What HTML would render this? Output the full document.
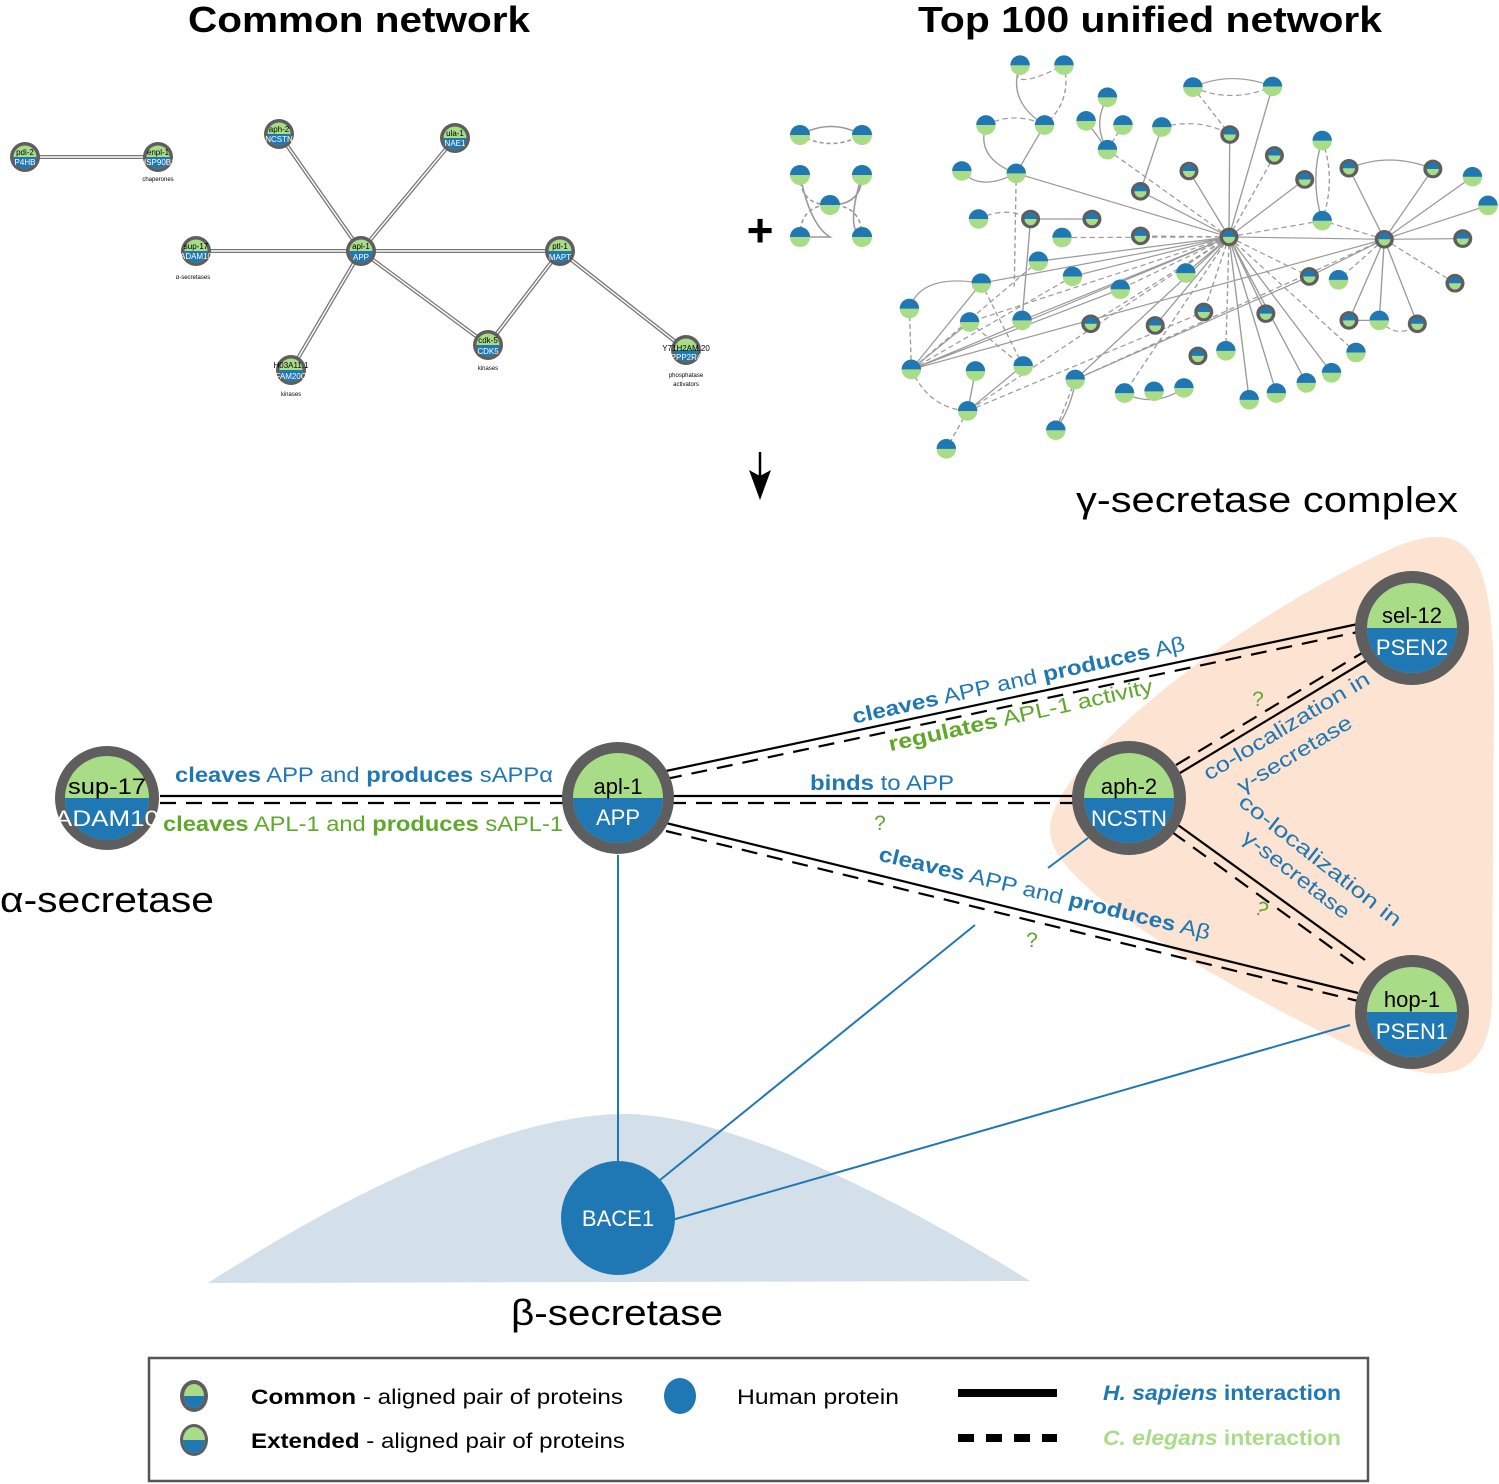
<!DOCTYPE html>
<html><head><meta charset="utf-8"><style>
html,body{margin:0;padding:0;background:#fff}
svg{display:block;font-family:"Liberation Sans",sans-serif}
</style></head><body>
<svg width="1499" height="1484" viewBox="0 0 1499 1484" xmlns="http://www.w3.org/2000/svg">
<defs>
<g id="ex"><ellipse rx="25" ry="29" fill="#a8dc87"/><path d="M-25,0 A25,29 0 0 1 25,0 Z" fill="#1f77b4"/></g>
<g id="cm"><ellipse rx="20" ry="23" fill="#a8dc87" stroke="#5e5e5e" stroke-width="9"/><path d="M-16,0 A16,19 0 0 1 16,0 Z" fill="#1f77b4"/></g>
<g id="sx"><circle r="10" fill="#a8dc87"/><path d="M-10,0 A10,10 0 0 1 10,0 Z" fill="#1f77b4"/></g>
<g id="sc"><circle r="15" fill="#5e5e5e"/><circle r="11.5" fill="#a8dc87"/><path d="M-11.5,0 A11.5,11.5 0 0 0 11.5,0 Z" fill="#1f77b4"/></g>
</defs>

<!-- titles -->
<text x="188" y="32" font-size="36" font-weight="bold" textLength="342" lengthAdjust="spacingAndGlyphs">Common network</text>
<text x="918" y="32" font-size="36" font-weight="bold" textLength="464" lengthAdjust="spacingAndGlyphs">Top 100 unified network</text>

<!-- small common network -->
<g stroke-linecap="round">
<g stroke="#777" stroke-width="4">
<line x1="25" y1="157" x2="158" y2="157"/>
<line x1="279" y1="134" x2="361" y2="251"/>
<line x1="455" y1="138" x2="361" y2="251"/>
<line x1="196" y1="251" x2="560" y2="251"/>
<line x1="361" y1="251" x2="488" y2="345"/>
<line x1="361" y1="251" x2="291" y2="370"/>
<line x1="560" y1="251" x2="488" y2="345"/>
<line x1="560" y1="251" x2="686" y2="350"/>
</g>
<g stroke="#fff" stroke-width="1.4">
<line x1="25" y1="157" x2="158" y2="157"/>
<line x1="279" y1="134" x2="361" y2="251"/>
<line x1="455" y1="138" x2="361" y2="251"/>
<line x1="196" y1="251" x2="560" y2="251"/>
<line x1="361" y1="251" x2="488" y2="345"/>
<line x1="361" y1="251" x2="291" y2="370"/>
<line x1="560" y1="251" x2="488" y2="345"/>
<line x1="560" y1="251" x2="686" y2="350"/>
</g>
</g>
<g font-size="8" text-anchor="middle">
<use href="#sc" x="25" y="157"/><text x="25" y="155">pdi-2</text><text x="25" y="165" fill="#fff">P4HB</text>
<use href="#sc" x="158" y="157"/><text x="158" y="155">enpl-1</text><text x="158" y="165" fill="#fff">HSP90B1</text><text x="158" y="181" font-size="6">chaperones</text>
<use href="#sc" x="279" y="134"/><text x="279" y="132">aph-2</text><text x="279" y="142" fill="#fff">NCSTN</text>
<use href="#sc" x="455" y="138"/><text x="455" y="136">ula-1</text><text x="455" y="146" fill="#fff">NAE1</text>
<use href="#sc" x="196" y="251"/><text x="196" y="249">sup-17</text><text x="196" y="259" fill="#fff">ADAM10</text><text x="193" y="279" font-size="6">α-secretases</text>
<use href="#sc" x="361" y="251"/><text x="361" y="249">apl-1</text><text x="361" y="260" fill="#fff">APP</text>
<use href="#sc" x="560" y="251"/><text x="560" y="249">ptl-1</text><text x="560" y="260" fill="#fff">MAPT</text>
<use href="#sc" x="488" y="345"/><text x="488" y="343">cdk-5</text><text x="488" y="354" fill="#fff">CDK5</text><text x="488" y="370" font-size="6">kinases</text>
<use href="#sc" x="291" y="370"/><text x="291" y="368">H03A11.1</text><text x="291" y="379" fill="#fff">FAM20C</text><text x="291" y="396" font-size="6">kinases</text>
<use href="#sc" x="686" y="350"/><text x="686" y="351">Y71H2AM.20</text><text x="686" y="360" fill="#fff">PPP2R4</text><text x="686" y="377" font-size="6">phosphatase</text><text x="686" y="386" font-size="6">activators</text>
</g>

<!-- plus and arrow -->
<text x="760" y="246" font-size="46" font-weight="bold" text-anchor="middle">+</text>
<line x1="760" y1="452" x2="760" y2="480" stroke="#000" stroke-width="2.5"/>
<path d="M749,470 L760,500 L771,470 L760,476 Z" fill="#000"/>

<!-- small clusters -->
<g fill="none" stroke="#999" stroke-width="1.6">
<path d="M800,135 Q831,118 862,135"/>
<path d="M800,135 Q831,152 862,135" stroke-dasharray="4,3"/>
<path d="M800,175 Q800,205 830,205" stroke-dasharray="4,3"/>
<path d="M862,175 Q862,205 830,205"/>
<path d="M800,237 Q800,205 830,205" stroke-dasharray="4,3"/>
<path d="M862,237 Q862,205 830,205" stroke-dasharray="4,3"/>
<path d="M800,175 Q810,225 830,237 L800,237"/>
<path d="M862,175 Q845,230 862,237"/>
</g>
<use href="#sx" x="800" y="135"/><use href="#sx" x="862" y="135"/>
<use href="#sx" x="800" y="175"/><use href="#sx" x="862" y="175"/>
<use href="#sx" x="830" y="205"/><use href="#sx" x="800" y="237"/><use href="#sx" x="862" y="237"/>

<!-- top 100 network -->
<g transform="translate(890,50) scale(0.3883,0.338)">
<g stroke="#9a9a9a" stroke-width="3.5" fill="none">
<path d="M873,553L875,250M873,553L770,358M873,553L1068,383M873,553L645,418M873,553L325,365M873,553L382,625M873,553L470,670M873,553L235,690M873,553L55,945M873,553L340,800M873,553L762,660M873,553L683,815M873,553L968,780M873,553L925,1035M873,553L995,1015M873,553L1072,985M873,553L1137,955M873,553L1273,560M873,553L477,975M873,553L985,108
M1273,560L1182,350M1273,560L1398,352M1273,560L1500,375M1273,560L1540,460M1273,560L1475,558M1273,560L1358,810M1273,560L1260,800M1273,560L1182,800M1273,560L1080,670M1273,560L55,945
M335,45Q300,150 398,222M247,222Q220,320 325,365M398,222L325,365M560,140Q520,220 560,295M505,210L560,295M780,110Q880,60 985,108M700,228L645,418M362,500L520,500M362,500L340,800M1113,268Q1080,380 1113,505M50,765Q80,660 235,690M55,945L235,690M220,950L200,1068M1260,800L1182,800M1182,350Q1290,300 1398,352M55,945L593,708M477,975L1080,670M200,1068L340,935M427,1125Q470,1050 477,975M185,358Q230,420 325,365M603,1015Q680,1060 757,1000M205,805L55,945"/>
</g>
<g stroke="#9a9a9a" stroke-width="3.5" fill="none" stroke-dasharray="14,9">
<path d="M873,553L990,312M873,553L560,295M873,553L645,550M873,553L443,555M873,553L205,805M873,553L593,708M873,553L517,810M873,553L808,775M873,553L1200,895M873,553L1080,670M873,553L200,1068M873,553L604,1015M873,553L865,890M873,553L1113,505
M1273,560L1455,690M1273,560L1155,680M1273,560L1113,505M1273,560L477,975
M448,45Q470,150 398,222M335,45Q300,130 448,45M247,222Q320,180 398,222M600,222L560,295M780,110L875,250M700,228Q800,200 875,250M228,500Q300,460 362,500M50,765L55,945M205,805L340,935M200,1068L145,1180M477,975L427,1125M1260,800Q1310,860 1358,810M55,945L470,670M200,1068L808,775M780,110Q880,160 985,108M325,365L320,700M1113,268Q1150,380 1113,505M55,945Q100,1060 200,1068M382,625L55,945M235,690L343,935"/>
</g>
<g>
<use href="#ex" x="335" y="45"/><use href="#ex" x="448" y="45"/><use href="#ex" x="780" y="110"/><use href="#ex" x="985" y="108"/><use href="#ex" x="560" y="140"/><use href="#ex" x="247" y="222"/><use href="#ex" x="398" y="222"/><use href="#ex" x="505" y="210"/><use href="#ex" x="600" y="222"/><use href="#ex" x="700" y="228"/><use href="#ex" x="1113" y="268"/><use href="#ex" x="185" y="358"/><use href="#ex" x="325" y="365"/><use href="#ex" x="560" y="295"/><use href="#ex" x="228" y="500"/><use href="#ex" x="443" y="555"/><use href="#ex" x="1113" y="505"/><use href="#ex" x="1500" y="375"/><use href="#ex" x="1540" y="460"/><use href="#ex" x="382" y="625"/><use href="#ex" x="470" y="670"/><use href="#ex" x="762" y="660"/><use href="#ex" x="235" y="690"/><use href="#ex" x="593" y="708"/><use href="#ex" x="1155" y="680"/><use href="#ex" x="50" y="765"/><use href="#ex" x="205" y="805"/><use href="#ex" x="340" y="800"/><use href="#ex" x="865" y="890"/><use href="#ex" x="1200" y="895"/><use href="#ex" x="55" y="945"/><use href="#ex" x="220" y="950"/><use href="#ex" x="343" y="935"/><use href="#ex" x="477" y="975"/><use href="#ex" x="604" y="1015"/><use href="#ex" x="680" y="1010"/><use href="#ex" x="757" y="1000"/><use href="#ex" x="925" y="1035"/><use href="#ex" x="995" y="1015"/><use href="#ex" x="1072" y="985"/><use href="#ex" x="1137" y="955"/><use href="#ex" x="200" y="1068"/><use href="#ex" x="427" y="1125"/><use href="#ex" x="145" y="1180"/><use href="#ex" x="1260" y="800"/>
<use href="#cm" x="875" y="250"/><use href="#cm" x="990" y="312"/><use href="#cm" x="770" y="358"/><use href="#cm" x="1068" y="383"/><use href="#cm" x="645" y="418"/><use href="#cm" x="1182" y="350"/><use href="#cm" x="1398" y="352"/><use href="#cm" x="362" y="500"/><use href="#cm" x="520" y="500"/><use href="#cm" x="645" y="550"/><use href="#cm" x="873" y="553"/><use href="#cm" x="1273" y="560"/><use href="#cm" x="1475" y="558"/><use href="#cm" x="1080" y="670"/><use href="#cm" x="1455" y="690"/><use href="#cm" x="808" y="775"/><use href="#cm" x="968" y="780"/><use href="#cm" x="517" y="810"/><use href="#cm" x="683" y="815"/><use href="#cm" x="793" y="905"/><use href="#cm" x="1182" y="800"/><use href="#cm" x="1358" y="810"/>
</g>
</g>

<!-- regions -->
<path d="M1050,830 C1050,760 1250,610 1400,545 C1480,515 1494,570 1494,700 L1492,1000 C1490,1090 1430,1080 1380,1060 C1250,1000 1048,890 1050,830 Z" fill="#fde3d1"/>
<path d="M208,1283 C400,1160 540,1112 630,1114 C740,1118 900,1200 1030,1281 Z" fill="#d3dfe9"/>

<text x="1267" y="512" font-size="36" text-anchor="middle" textLength="382" lengthAdjust="spacingAndGlyphs">γ-secretase complex</text>
<text x="0" y="912" font-size="36" textLength="214" lengthAdjust="spacingAndGlyphs">α-secretase</text>
<text x="617" y="1325" font-size="36" text-anchor="middle" textLength="212" lengthAdjust="spacingAndGlyphs">β-secretase</text>

<!-- blue edges -->
<g stroke="#1f77b4" stroke-width="2">
<line x1="618" y1="855" x2="618" y2="1162"/>
<line x1="660" y1="1180" x2="975" y2="925"/>
<line x1="1048" y1="868" x2="1088" y2="838"/>
<line x1="672" y1="1220" x2="1350" y2="1025"/>
</g>

<!-- black edges -->
<g stroke="#000" stroke-width="2.2" fill="none">
<line x1="160" y1="796" x2="565" y2="796"/>
<line x1="160" y1="803" x2="565" y2="803" stroke-dasharray="16,10"/>
<line x1="670" y1="796" x2="1075" y2="796"/>
<line x1="670" y1="803" x2="1075" y2="803" stroke-dasharray="16,10"/>
<line x1="666" y1="771" x2="1358" y2="624"/>
<line x1="666" y1="779" x2="1358" y2="632" stroke-dasharray="16,10"/>
<line x1="666" y1="823" x2="1358" y2="993"/>
<line x1="666" y1="831" x2="1358" y2="1001" stroke-dasharray="16,10"/>
<line x1="1180" y1="773" x2="1367" y2="660"/>
<line x1="1176" y1="765" x2="1362" y2="653" stroke-dasharray="16,10"/>
<line x1="1178" y1="825" x2="1365" y2="960"/>
<line x1="1172" y1="832" x2="1358" y2="967" stroke-dasharray="16,10"/>
</g>

<!-- edge labels -->
<g font-size="21">
<text x="175" y="782" fill="#1f77b4" textLength="378" lengthAdjust="spacingAndGlyphs"><tspan font-weight="bold">cleaves</tspan> APP and <tspan font-weight="bold">produces</tspan> sAPPα</text>
<text x="163" y="831" fill="#5fa829" textLength="400" lengthAdjust="spacingAndGlyphs"><tspan font-weight="bold">cleaves</tspan> APL-1 and <tspan font-weight="bold">produces</tspan> sAPL-1</text>
<text x="810" y="790" fill="#1f77b4" textLength="144" lengthAdjust="spacingAndGlyphs"><tspan font-weight="bold">binds</tspan> to APP</text>
<text x="880" y="830" fill="#5fa829" text-anchor="middle">?</text>
<text transform="translate(1020,687) rotate(-12.5)" fill="#1f77b4" text-anchor="middle" textLength="340" lengthAdjust="spacingAndGlyphs"><tspan font-weight="bold">cleaves</tspan> APP and <tspan font-weight="bold">produces</tspan> Aβ</text>
<text transform="translate(1022,722) rotate(-12.5)" fill="#5fa829" text-anchor="middle" textLength="270" lengthAdjust="spacingAndGlyphs"><tspan font-weight="bold">regulates</tspan> APL-1 activity</text>
<text transform="translate(1043,900) rotate(13.5)" fill="#1f77b4" text-anchor="middle" textLength="340" lengthAdjust="spacingAndGlyphs"><tspan font-weight="bold">cleaves</tspan> APP and <tspan font-weight="bold">produces</tspan> Aβ</text>
<text x="1032" y="947" fill="#5fa829" text-anchor="middle">?</text>
<text x="1258" y="706" fill="#5fa829" text-anchor="middle">?</text>
<text transform="translate(1258,915) rotate(30)" fill="#5fa829" text-anchor="middle">?</text>
<text transform="translate(1290,732) rotate(-31)" fill="#1f77b4" text-anchor="middle" textLength="190" lengthAdjust="spacingAndGlyphs">co-localization in</text>
<text transform="translate(1298,760) rotate(-31)" fill="#1f77b4" text-anchor="middle" textLength="130" lengthAdjust="spacingAndGlyphs">γ-secretase</text>
<text transform="translate(1316,866) rotate(38)" fill="#1f77b4" text-anchor="middle" textLength="200" lengthAdjust="spacingAndGlyphs">co-localization in</text>
<text transform="translate(1292,880) rotate(38)" fill="#1f77b4" text-anchor="middle" textLength="130" lengthAdjust="spacingAndGlyphs">γ-secretase</text>
</g>

<!-- main nodes -->
<g font-size="22" text-anchor="middle">
<g transform="translate(107,798)"><circle r="52" fill="#5e5e5e"/><circle r="42" fill="#a8dc87"/><path d="M-42,0 A42,42 0 0 0 42,0 Z" fill="#1f77b4"/><text y="-4" textLength="78" lengthAdjust="spacingAndGlyphs">sup-17</text><text y="28" fill="#fff" textLength="104" lengthAdjust="spacingAndGlyphs">ADAM10</text></g>
<g transform="translate(618,798)"><circle r="56" fill="#5e5e5e"/><circle r="45" fill="#a8dc87"/><path d="M-45,0 A45,45 0 0 0 45,0 Z" fill="#1f77b4"/><text y="-4">apl-1</text><text y="27" fill="#fff">APP</text></g>
<g transform="translate(1129,798)"><circle r="57" fill="#5e5e5e"/><circle r="45" fill="#a8dc87"/><path d="M-45,0 A45,45 0 0 0 45,0 Z" fill="#1f77b4"/><text y="-4">aph-2</text><text y="28" fill="#fff" textLength="76" lengthAdjust="spacingAndGlyphs">NCSTN</text></g>
<g transform="translate(1412,628)"><circle r="57" fill="#5e5e5e"/><circle r="45" fill="#a8dc87"/><path d="M-45,0 A45,45 0 0 0 45,0 Z" fill="#1f77b4"/><text y="-5">sel-12</text><text y="27" fill="#fff">PSEN2</text></g>
<g transform="translate(1412,1012)"><circle r="57" fill="#5e5e5e"/><circle r="45" fill="#a8dc87"/><path d="M-45,0 A45,45 0 0 0 45,0 Z" fill="#1f77b4"/><text y="-5">hop-1</text><text y="27" fill="#fff">PSEN1</text></g>
<g transform="translate(618,1218)"><circle r="57" fill="#1f77b4"/><text y="8" fill="#fff">BACE1</text></g>
</g>

<!-- legend -->
<rect x="149" y="1358" width="1219" height="123" fill="#fff" stroke="#555" stroke-width="2.5"/>
<g transform="translate(194,1396)"><ellipse rx="14" ry="16" fill="#5e5e5e"/><ellipse rx="10" ry="12" fill="#a8dc87"/><path d="M-10,0 A10,12 0 0 0 10,0 Z" fill="#1f77b4"/></g>
<g transform="translate(194,1440)"><ellipse rx="14" ry="16" fill="#5e5e5e"/><ellipse rx="11" ry="13" fill="#a8dc87"/><path d="M-11,0 A11,13 0 0 0 11,0 Z" fill="#1f77b4"/></g>
<ellipse cx="680" cy="1396" rx="16" ry="18" fill="#1f77b4"/>
<line x1="958" y1="1393" x2="1057" y2="1393" stroke="#000" stroke-width="8"/>
<line x1="958" y1="1438" x2="1057" y2="1438" stroke="#000" stroke-width="8" stroke-dasharray="16,12"/>
<g font-size="21">
<text x="251" y="1404" textLength="372" lengthAdjust="spacingAndGlyphs"><tspan font-weight="bold">Common</tspan> - aligned pair of proteins</text>
<text x="251" y="1448" textLength="374" lengthAdjust="spacingAndGlyphs"><tspan font-weight="bold">Extended</tspan> - aligned pair of proteins</text>
<text x="737" y="1404" textLength="162" lengthAdjust="spacingAndGlyphs">Human protein</text>
<text x="1103" y="1400" fill="#1f77b4" font-weight="bold" textLength="238" lengthAdjust="spacingAndGlyphs"><tspan font-style="italic">H. sapiens</tspan> interaction</text>
<text x="1103" y="1445" fill="#a8dc87" font-weight="bold" textLength="238" lengthAdjust="spacingAndGlyphs"><tspan font-style="italic">C. elegans</tspan> interaction</text>
</g>
</svg>
</body></html>
